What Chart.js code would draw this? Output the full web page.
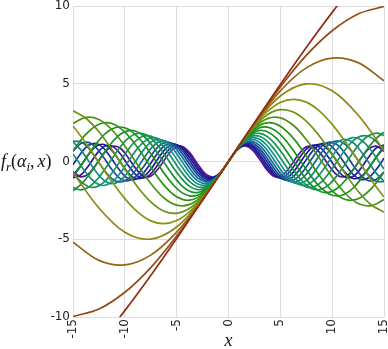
<!DOCTYPE html>
<html>
<head>
<meta charset="utf-8">
<script src="https://cdn.jsdelivr.net/npm/chart.js@4.4.1/dist/chart.umd.min.js"></script>
<style>
  body { margin: 0; background: #fff; }
  #wrap { width: 388px; height: 349px; }
</style>
</head>
<body>
<div id="wrap"><canvas id="curves" width="388" height="349"></canvas></div>
<script>
// tick labels
const xTicks = [-15, -10, -5, 0, 5, 10, 15];
const yTicks = [-10, -5, 0, 5, 10];

// alpha values of the curves (legend-free, one curve each)
const alphas = [0.05, 0.1, 0.15, 0.2, 0.25, 0.3, 0.35, 0.4, 0.45, 0.5,
                0.55, 0.6, 0.65, 0.7, 0.75, 0.8, 0.85, 0.9, 0.95, 1.0];

// x positions (coarse / medium / fine sampling)
const xCoarse = [-15, -12.5, -10, -7.5, -5, -2.5, 0, 2.5, 5, 7.5, 10, 12.5, 15];
const xMedium = [-15, -13.75, -12.5, -11.25, -10, -8.75, -7.5, -6.25, -5, -3.75, -2.5, -1.25, 0,
                 1.25, 2.5, 3.75, 5, 6.25, 7.5, 8.75, 10, 11.25, 12.5, 13.75, 15];
const xFine = [-15, -14.25, -13.5, -12.75, -12, -11.25, -10.5, -9.75, -9, -8.25, -7.5, -6.75, -6, -5.25,
               -4.5, -3.75, -3, -2.25, -1.5, -0.75, 0, 0.75, 1.5, 2.25, 3, 3.75, 4.5, 5.25, 6, 6.75,
               7.5, 8.25, 9, 9.75, 10.5, 11.25, 12, 12.75, 13.5, 14.25, 15];

// series values
const f01 = [-13.63, -11.7, -9.59, -7.33, -4.95, -2.49, 0, 2.49, 4.95, 7.33, 9.59, 11.7, 13.63];
const f02 = [-9.97, -9.49, -8.41, -6.82, -4.79, -2.47, 0, 2.47, 4.79, 6.82, 8.41, 9.49, 9.97];
const f03 = [-5.19, -6.36, -6.65, -6.02, -4.54, -2.44, 0, 2.44, 4.54, 6.02, 6.65, 6.36, 5.19];
const f04 = [-0.71, -2.99, -4.55, -4.99, -4.21, -2.4, 0, 2.4, 4.21, 4.99, 4.55, 2.99, 0.71];

const f05 = [2.29, 1.17, -0.07, -1.29, -2.39, -3.26, -3.82, -4, -3.8, -3.22, -2.34, -1.23, 0,
             1.23, 2.34, 3.22, 3.8, 4, 3.82, 3.26, 2.39, 1.29, 0.07, -1.17, -2.29];
const f06 = [3.26, 2.78, 1.91, 0.77, -0.47, -1.65, -2.59, -3.18, -3.33, -3.01, -2.27, -1.22, 0,
             1.22, 2.27, 3.01, 3.33, 3.18, 2.59, 1.65, 0.47, -0.77, -1.91, -2.78, -3.26];
const f07 = [2.45, 2.84, 2.7, 2.04, 1, -0.23, -1.41, -2.33, -2.81, -2.76, -2.19, -1.21, 0,
             1.21, 2.19, 2.76, 2.81, 2.33, 1.41, 0.23, -1, -2.04, -2.7, -2.84, -2.45];
const f08 = [0.7, 1.76, 2.4, 2.44, 1.89, 0.88, -0.35, -1.5, -2.27, -2.49, -2.1, -1.2, 0,
             1.2, 2.1, 2.49, 2.27, 1.5, 0.35, -0.88, -1.89, -2.44, -2.4, -1.76, -0.7];

const f09 = [-1, -0.29, 0.46, 1.15, 1.72, 2.09, 2.22, 2.11, 1.75, 1.2, 0.51, -0.23, -0.95, -1.56, -2, -2.21, -2.17, -1.88, -1.39, -0.74, 0,
             0.74, 1.39, 1.88, 2.17, 2.21, 2, 1.56, 0.95, 0.23, -0.51, -1.2, -1.75, -2.11, -2.22, -2.09, -1.72, -1.15, -0.46, 0.29, 1];
const f10 = [-1.88, -1.49, -0.9, -0.18, 0.56, 1.22, 1.72, 1.97, 1.96, 1.67, 1.14, 0.46, -0.28, -0.99, -1.56, -1.91, -2, -1.8, -1.36, -0.73, 0,
             0.73, 1.36, 1.8, 2, 1.91, 1.56, 0.99, 0.28, -0.46, -1.14, -1.67, -1.96, -1.97, -1.72, -1.22, -0.56, 0.18, 0.9, 1.49, 1.88];
const f11 = [-1.68, -1.82, -1.65, -1.21, -0.57, 0.17, 0.88, 1.45, 1.77, 1.79, 1.51, 0.98, 0.29, -0.46, -1.12, -1.6, -1.81, -1.72, -1.34, -0.73, 0,
             0.73, 1.34, 1.72, 1.81, 1.6, 1.12, 0.46, -0.29, -0.98, -1.51, -1.79, -1.77, -1.45, -0.88, -0.17, 0.57, 1.21, 1.65, 1.82, 1.68];
const f12 = [-0.69, -1.28, -1.62, -1.63, -1.32, -0.75, -0.03, 0.7, 1.29, 1.62, 1.63, 1.31, 0.74, 0.01, -0.71, -1.3, -1.62, -1.63, -1.31, -0.73, 0,
             0.73, 1.31, 1.63, 1.62, 1.3, 0.71, -0.01, -0.74, -1.31, -1.63, -1.62, -1.29, -0.7, 0.03, 0.75, 1.32, 1.63, 1.62, 1.28, 0.69];
const f13 = [0.49, -0.25, -0.93, -1.4, -1.54, -1.32, -0.79, -0.08, 0.65, 1.22, 1.52, 1.46, 1.06, 0.41, -0.33, -1, -1.43, -1.53, -1.27, -0.72, 0,
             0.72, 1.27, 1.53, 1.43, 1, 0.33, -0.41, -1.06, -1.46, -1.52, -1.22, -0.65, 0.08, 0.79, 1.32, 1.54, 1.4, 0.93, 0.25, -0.49];
const f14 = [1.26, 0.75, 0.04, -0.68, -1.22, -1.43, -1.25, -0.74, -0.02, 0.7, 1.23, 1.43, 1.25, 0.73, 0.01, -0.71, -1.23, -1.43, -1.24, -0.72, 0,
             0.72, 1.24, 1.43, 1.23, 0.71, -0.01, -0.73, -1.25, -1.43, -1.23, -0.7, 0.02, 0.74, 1.25, 1.43, 1.22, 0.68, -0.04, -0.75, -1.26];
const f15 = [1.29, 1.27, 0.86, 0.18, -0.55, -1.11, -1.33, -1.14, -0.6, 0.13, 0.82, 1.25, 1.3, 0.95, 0.31, -0.43, -1.04, -1.32, -1.2, -0.71, 0,
             0.71, 1.2, 1.32, 1.04, 0.43, -0.31, -0.95, -1.3, -1.25, -0.82, -0.13, 0.6, 1.14, 1.33, 1.11, 0.55, -0.18, -0.86, -1.27, -1.29];
const f16 = [0.67, 1.15, 1.23, 0.87, 0.22, -0.52, -1.07, -1.25, -0.99, -0.39, 0.35, 0.97, 1.25, 1.09, 0.55, -0.18, -0.84, -1.22, -1.17, -0.71, 0,
             0.71, 1.17, 1.22, 0.84, 0.18, -0.55, -1.09, -1.25, -0.97, -0.35, 0.39, 0.99, 1.25, 1.07, 0.52, -0.22, -0.87, -1.23, -1.15, -0.67];
const f17 = [-0.21, 0.52, 1.04, 1.16, 0.82, 0.16, -0.56, -1.07, -1.15, -0.78, -0.11, 0.61, 1.09, 1.14, 0.74, 0.05, -0.66, -1.11, -1.13, -0.7, 0,
             0.7, 1.13, 1.11, 0.66, -0.05, -0.74, -1.14, -1.09, -0.61, 0.11, 0.78, 1.15, 1.07, 0.56, -0.16, -0.82, -1.16, -1.04, -0.52, 0.21];
const f18 = [-0.89, -0.28, 0.45, 0.99, 1.09, 0.72, 0.03, -0.67, -1.08, -1.01, -0.5, 0.23, 0.86, 1.11, 0.88, 0.26, -0.47, -1, -1.08, -0.69, 0,
             0.69, 1.08, 1, 0.47, -0.26, -0.88, -1.11, -0.86, -0.23, 0.5, 1.01, 1.08, 0.67, -0.03, -0.72, -1.09, -0.99, -0.45, 0.28, 0.89];
const f19 = [-1.05, -0.87, -0.27, 0.46, 0.97, 1, 0.55, -0.17, -0.81, -1.05, -0.79, -0.14, 0.58, 1.01, 0.95, 0.43, -0.3, -0.89, -1.04, -0.69, 0,
             0.69, 1.04, 0.89, 0.3, -0.43, -0.95, -1.01, -0.58, 0.14, 0.79, 1.05, 0.81, 0.17, -0.55, -1, -0.97, -0.46, 0.27, 0.87, 1.05];
const f20 = [-0.65, -0.99, -0.8, -0.18, 0.54, 0.97, 0.88, 0.32, -0.41, -0.92, -0.94, -0.45, 0.28, 0.86, 0.98, 0.57, -0.14, -0.78, -1, -0.68, 0,
             0.68, 1, 0.78, 0.14, -0.57, -0.98, -0.86, -0.28, 0.45, 0.94, 0.92, 0.41, -0.32, -0.88, -0.97, -0.54, 0.18, 0.8, 0.99, 0.65];

const series = [
  [xCoarse, f01], [xCoarse, f02], [xCoarse, f03], [xCoarse, f04],
  [xMedium, f05], [xMedium, f06], [xMedium, f07], [xMedium, f08],
  [xFine, f09], [xFine, f10], [xFine, f11], [xFine, f12], [xFine, f13], [xFine, f14],
  [xFine, f15], [xFine, f16], [xFine, f17], [xFine, f18], [xFine, f19], [xFine, f20]
];

// brown -> olive -> green -> teal -> blue -> purple
const hues = [12, 25, 38, 52, 66, 80, 94, 108, 120, 132, 145, 158, 172, 186, 200, 214, 228, 242, 256, 270];

const datasets = series.map(([xs, ys], i) => ({
  label: 'alpha = ' + alphas[i],
  data: xs.map((x, j) => ({ x: x, y: ys[j] })),
  borderColor: 'hsl(' + hues[i] + ', 75%, 33%)',
  borderWidth: 1.7,
  pointRadius: 0,
  tension: 0.35,
  fill: false
}));

// axis titles in math style
const axisTitles = {
  id: 'axisTitles',
  afterDraw(chart) {
    const ctx = chart.ctx;
    const y0 = chart.scales.y.getPixelForValue(0);
    const big = 'italic 18px "Liberation Serif"';
    const small = 'italic 13px "Liberation Serif"';
    const plain = '18px "Liberation Serif"';
    let x = 1;
    const base = y0 + 5;
    const put = (t, font, dy) => {
      ctx.font = font;
      ctx.fillText(t, x, base + dy);
      x += ctx.measureText(t).width;
    };
    ctx.save();
    ctx.fillStyle = '#111';
    ctx.textAlign = 'left';
    ctx.textBaseline = 'alphabetic';
    put('f', big, 0);
    put('r', small, 4);
    put('(', plain, 0);
    put('\u03b1', big, 0);
    put('i', small, 4);
    put(',', plain, 0);
    x += 3;
    put('x', big, 0);
    put(')', plain, 0);
    ctx.font = big;
    ctx.textAlign = 'center';
    ctx.fillText('x', chart.scales.x.getPixelForValue(0), 346);
    ctx.restore();
  }
};

const tickFont = { family: 'DejaVu Sans', size: 12 };
const gridColor = '#dddddd';

new Chart(document.getElementById('curves').getContext('2d'), {
  type: 'line',
  data: { datasets: datasets },
  options: {
    responsive: false,
    animation: false,
    devicePixelRatio: 1,
    layout: { padding: { top: 6, right: 4, left: 0, bottom: 0 } },
    plugins: { legend: { display: false }, tooltip: { enabled: false } },
    scales: {
      x: {
        type: 'linear',
        min: -15,
        max: 15,
        afterBuildTicks: (scale) => { scale.ticks = xTicks.map(v => ({ value: v })); },
        afterFit: (scale) => { scale.height = 32; scale.paddingLeft = 0; scale.paddingRight = 0; },
        ticks: { minRotation: 90, maxRotation: 90, padding: 2, font: tickFont, color: '#222' },
        grid: { color: gridColor, drawTicks: false },
        border: { display: false }
      },
      y: {
        min: -10,
        max: 10,
        afterBuildTicks: (scale) => { scale.ticks = yTicks.map(v => ({ value: v })); },
        afterFit: (scale) => { scale.width = 73; scale.paddingTop = 0; scale.paddingBottom = 0; },
        ticks: { padding: 3, font: tickFont, color: '#222' },
        grid: { color: gridColor, drawTicks: false },
        border: { display: false }
      }
    }
  },
  plugins: [axisTitles]
});
</script>
</body>
</html>
